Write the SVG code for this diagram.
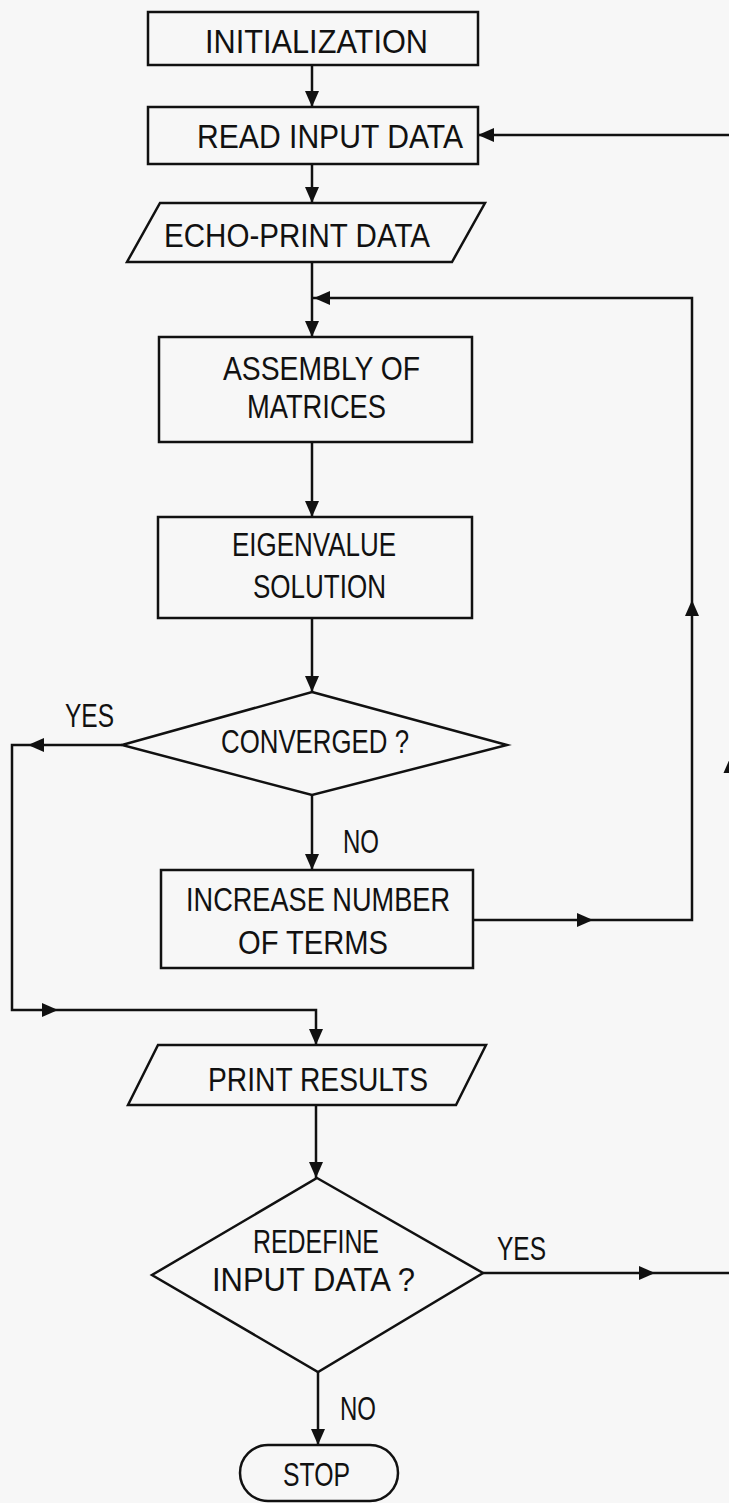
<svg xmlns="http://www.w3.org/2000/svg" xmlns:xlink="http://www.w3.org/1999/xlink" width="729" height="1503" viewBox="0 0 729 1503">
<style>
.bg{fill:#f7f7f7}
.shape{fill:none;stroke:#111;stroke-width:2.5;stroke-linejoin:miter}
.line{fill:none;stroke:#111;stroke-width:2.5}
.ah{fill:#111}
text{font-family:"Liberation Sans",Arial,sans-serif;font-size:33px;fill:#111}
</style>
<defs>
<path id="ah" d="M0,0 L-16,-7 L-16,7 Z"/>
</defs>
<rect class="bg" x="0" y="0" width="729" height="1503"/>

<g id="connectors">
<path class="line" d="M312,65 V107"/>
<path class="line" d="M312,164 V203"/>
<path class="line" d="M312,262 V337"/>
<path class="line" d="M312,442 V517"/>
<path class="line" d="M312,618 V692"/>
<path class="line" d="M312,795 V870"/>
<path class="line" d="M731,135 H478"/>
<path class="line" d="M730.5,135 V1273"/>
<path class="line" d="M473,920 H692 V298 H312"/>
<path class="line" d="M122,745 H12 V1010 H316 V1045"/>
<path class="line" d="M316,1105 V1178"/>
<path class="line" d="M483,1273 H731"/>
<path class="line" d="M318,1372 V1445"/>
<use href="#ah" class="ah" transform="translate(312,107) rotate(90)"/>
<use href="#ah" class="ah" transform="translate(312,203) rotate(90)"/>
<use href="#ah" class="ah" transform="translate(312,337) rotate(90)"/>
<use href="#ah" class="ah" transform="translate(312,517) rotate(90)"/>
<use href="#ah" class="ah" transform="translate(312,692) rotate(90)"/>
<use href="#ah" class="ah" transform="translate(312,870) rotate(90)"/>
<use href="#ah" class="ah" transform="translate(478,135) rotate(180)"/>
<use href="#ah" class="ah" transform="translate(730.5,757) rotate(-90)"/>
<use href="#ah" class="ah" transform="translate(593,920)"/>
<use href="#ah" class="ah" transform="translate(692,600) rotate(-90)"/>
<use href="#ah" class="ah" transform="translate(314,298) rotate(180)"/>
<use href="#ah" class="ah" transform="translate(28,745) rotate(180)"/>
<use href="#ah" class="ah" transform="translate(58,1010)"/>
<use href="#ah" class="ah" transform="translate(316,1045) rotate(90)"/>
<use href="#ah" class="ah" transform="translate(316,1178) rotate(90)"/>
<use href="#ah" class="ah" transform="translate(655,1273)"/>
<use href="#ah" class="ah" transform="translate(318,1445) rotate(90)"/>
<text x="65" y="727" textLength="49" lengthAdjust="spacingAndGlyphs">YES</text>
<text x="343" y="853" textLength="36" lengthAdjust="spacingAndGlyphs">NO</text>
<text x="497" y="1260" textLength="49" lengthAdjust="spacingAndGlyphs">YES</text>
<text x="340" y="1420" textLength="36" lengthAdjust="spacingAndGlyphs">NO</text>
</g>

<g id="init">
<rect class="shape" x="148" y="12" width="330" height="53"/>
<text x="205" y="53" textLength="223" lengthAdjust="spacingAndGlyphs">INITIALIZATION</text>
</g>
<g id="read">
<rect class="shape" x="148" y="107" width="330" height="57"/>
<text x="197" y="148" textLength="266" lengthAdjust="spacingAndGlyphs">READ  INPUT  DATA</text>
</g>
<g id="echo">
<path class="shape" d="M160,203 H485 L452,262 H127 Z"/>
<text x="164" y="247" textLength="266" lengthAdjust="spacingAndGlyphs">ECHO-PRINT  DATA</text>
</g>
<g id="assembly">
<rect class="shape" x="159" y="337" width="313" height="105"/>
<text x="223" y="380" textLength="197" lengthAdjust="spacingAndGlyphs">ASSEMBLY  OF</text>
<text x="247" y="418" textLength="139" lengthAdjust="spacingAndGlyphs">MATRICES</text>
</g>
<g id="eigen">
<rect class="shape" x="158" y="517" width="314" height="101"/>
<text x="232" y="556" textLength="164" lengthAdjust="spacingAndGlyphs">EIGENVALUE</text>
<text x="253" y="598" textLength="133" lengthAdjust="spacingAndGlyphs">SOLUTION</text>
</g>
<g id="converged">
<path class="shape" d="M312,692 L507,745 L312,795 L122,745 Z"/>
<text x="221" y="753" textLength="188" lengthAdjust="spacingAndGlyphs">CONVERGED ?</text>
</g>
<g id="increase">
<rect class="shape" x="161" y="870" width="312" height="98"/>
<text x="186" y="911" textLength="264" lengthAdjust="spacingAndGlyphs">INCREASE  NUMBER</text>
<text x="238" y="954" textLength="150" lengthAdjust="spacingAndGlyphs">OF  TERMS</text>
</g>
<g id="print">
<path class="shape" d="M158,1045 H486 L456,1105 H128 Z"/>
<text x="208" y="1091" textLength="220" lengthAdjust="spacingAndGlyphs">PRINT  RESULTS</text>
</g>
<g id="redefine">
<path class="shape" d="M317,1178 L483,1273 L318,1372 L152,1275 Z"/>
<text x="253" y="1253" textLength="126" lengthAdjust="spacingAndGlyphs">REDEFINE</text>
<text x="212" y="1291" textLength="203" lengthAdjust="spacingAndGlyphs">INPUT  DATA ?</text>
</g>
<g id="stop">
<rect class="shape" x="240" y="1445" width="158" height="56" rx="28"/>
<text x="283" y="1486" textLength="67" lengthAdjust="spacingAndGlyphs">STOP</text>
</g>
</svg>
